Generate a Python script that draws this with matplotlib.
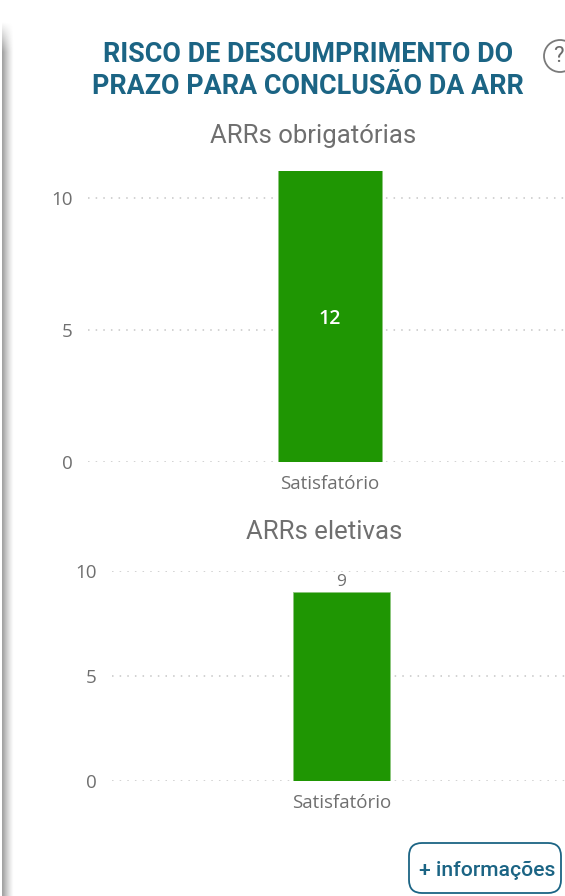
#!/usr/bin/env python3
# -*- coding: utf-8 -*-
import matplotlib
matplotlib.use('Agg')
import matplotlib.pyplot as plt
import numpy as np
from matplotlib.patches import FancyBboxPatch

W, H = 565, 896

categories = ['Satisfatório']
obrigatorias = [12]
eletivas = [9]
yticks = [0, 5, 10]

title_lines = ['RISCO DE DESCUMPRIMENTO DO', 'PRAZO PARA CONCLUSÃO DA ARR']
GREEN = '#1f9603'
TEAL = '#1b6484'
GRAY = '#6f6f6f'


def px_axes(fig, left, right, top, bottom):
    return fig.add_axes([left / W, 1 - bottom / H, (right - left) / W, (bottom - top) / H])


def bar_panel(fig, box, values, ymax, inside):
    ax = px_axes(fig, *box)
    ax.patch.set_alpha(0)
    ax.bar(categories, values, width=0.213, color=GREEN, edgecolor='#8cc67d', linewidth=0.6, zorder=3)
    ax.set_xlim(-0.5, 0.5)
    ax.set_ylim(0, ymax)
    ax.set_yticks(yticks)
    ax.yaxis.grid(True, color='#c6c6c6', linestyle=(0, (1, 4)), linewidth=1.1, zorder=1)
    ax.tick_params(axis='both', length=0, labelsize=13.5, labelcolor=GRAY)
    ax.tick_params(axis='y', pad=11)
    ax.tick_params(axis='x', pad=9)
    for tt in ax.get_xticklabels():
        tt.set_fontsize(13.5)
    for ss in ax.spines.values():
        ss.set_visible(False)
    for xx, vv in enumerate(values):
        if inside:
            ax.annotate(str(vv), (xx, min(vv, ymax) / 2), xytext=(0, -2), textcoords='offset points',
                        color='white', fontsize=14, weight='semibold', ha='center', va='center', zorder=4)
        else:
            ax.annotate(str(vv), (xx, vv), xytext=(0, 1.5), textcoords='offset points', color=GRAY,
                        fontsize=12.5, ha='center', va='bottom', zorder=4)
    return ax


plt.rcParams['font.family'] = ['Open Sans', 'DejaVu Sans']
fig = plt.figure(figsize=(W / 100, H / 100), dpi=100, facecolor='white')

bg = fig.add_axes([0, 0, 1, 1], zorder=0)
bg.set_xlim(0, W)
bg.set_ylim(H, 0)
bg.axis('off')

# left card shadow, fades out towards the top corner
xx = np.arange(0, 16) + 0.5
yy = np.arange(0, 70) + 0.5
horiz = np.clip(1 - (xx - 3) / 11, 0, 1) ** 1.3
horiz[xx < 2] = 0
vert = np.clip((yy - 22) / 30, 0, 1)
shade = np.outer(vert, horiz)
shade = np.vstack([shade, np.tile(shade[-1], (H - 70, 1))])
bg.imshow(1 - 0.36 * shade, cmap='gray', vmin=0, vmax=1, extent=(0, 16, H, 0), aspect='auto', interpolation='bilinear')
bg.set_xlim(0, W)
bg.set_ylim(H, 0)

for ii, line in enumerate(title_lines):
    fig.text(308 / W, 1 - (55 + 31 * ii) / H, line, color=TEAL, fontsize=19.4, weight='bold',
             family='Roboto', ha='center', va='center')

fig.text(313 / W, 1 - 136 / H, 'ARRs obrigatórias', color=GRAY, fontsize=18.5, family='Roboto',
         ha='center', va='center')
fig.text(324 / W, 1 - 532 / H, 'ARRs eletivas', color=GRAY, fontsize=18.5, family='Roboto',
         ha='center', va='center')

bg.add_patch(plt.Circle((560, 56), 16, fc='white', ec='#7a7a7a', lw=1.3))
bg.text(558, 57, '?', color='#6a6a6a', fontsize=16, ha='center', va='center', family='Roboto')

bg.add_patch(FancyBboxPatch((409, 843), 152, 50, boxstyle='round,pad=0,rounding_size=13',
                            fc='white', ec=TEAL, lw=1.3))
bg.text(487, 870, '+ informações', color=TEAL, fontsize=15.2, weight='medium', family='Roboto',
        ha='center', va='center')

bar_panel(fig, (88, 572, 171, 462), obrigatorias, 11.02, True)
bar_panel(fig, (112, 571, 571, 781), eletivas, 10, False)

fig.savefig('out.png', dpi=100)
